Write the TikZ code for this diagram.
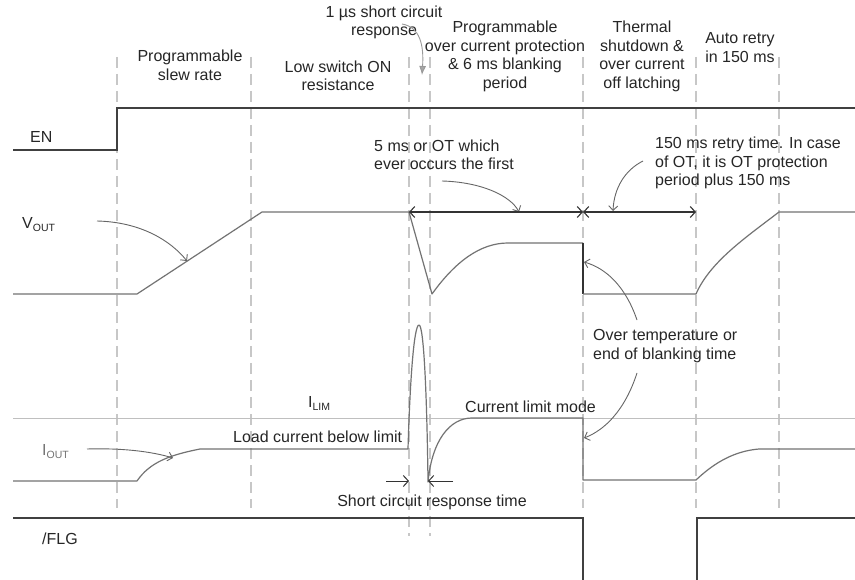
\documentclass[tikz,border=0pt]{standalone}
\usepackage{fontspec}
\setmainfont{Liberation Sans}
\usetikzlibrary{arrows.meta}
\newcommand{\lowsub}[1]{{\fontsize{10.5}{10.5}\selectfont\raisebox{-3pt}{#1}}}
\tikzset{
  guide/.style={draw=black!22, line width=1.1pt, dash pattern=on 11pt off 6pt},
  limline/.style={draw=black!25, line width=0.9pt},
  trace/.style={draw=black!55, line width=1.2pt, line join=round},
  darktrace/.style={draw=black!80, line width=1.3pt},
  sig/.style={draw=black!75, line width=1.4pt, line join=miter},
  note/.style={draw=black!60, line width=0.9pt, -{Straight Barb[length=4.5pt,width=9pt]}},
  notefill/.style={draw=black!40, line width=0.9pt, -{Latex[length=9pt,width=7pt,fill=black!35]}},
  dim/.style={draw=black!80, line width=1.1pt, {Straight Barb[length=5pt,width=11pt]}-{Straight Barb[length=5pt,width=11pt]}},
  scarrow/.style={draw=black!80, line width=1pt, -{Straight Barb[length=5pt,width=11pt]}},
  lbl/.style={inner sep=0pt, text=black!85},
}
\begin{document}
\begin{tikzpicture}[x=1pt, y=-1pt, font=\fontsize{16}{18.5}\selectfont]
\useasboundingbox (0,0) rectangle (855,580);
\fill[white] (0,0) rectangle (855,580);

% dashed guides
\foreach \gx in {117,251,583,696,779} {\draw[guide] (\gx,57) -- (\gx,508);}
\foreach \gx in {409,430} {\draw[guide] (\gx,57) -- (\gx,536);}

% I_LIM reference line
\draw[limline] (13,418) -- (855,418);

% EN
\draw[sig] (13,150) -- (117,150) -- (117,108) -- (855,108);

% V_OUT
\draw[trace] (13,294) -- (137,294) -- (262,212) -- (409,212) -- (432,294)
  .. controls (455,262) and (480,243) .. (508,243) -- (583,243);
\draw[darktrace] (583,243) -- (583,294);
\draw[trace] (583,294) -- (696,294)
  .. controls (710,262) and (745,238) .. (779,212) -- (855,212);

% I_OUT
\draw[trace] (13,481) -- (137,481) .. controls (150,462) and (170,455) .. (200,449)
  -- (408,449) .. controls (410,380) and (414,325) .. (419,325)
  .. controls (424,325) and (427,400) .. (428,482)
  .. controls (432,440) and (450,418) .. (472,418) -- (583,418) -- (583,480) -- (696,480)
  .. controls (715,462) and (735,451) .. (759,449) -- (855,449);

% /FLG
\draw[sig] (13,518) -- (583,518) -- (583,581);
\draw[sig] (697,581) -- (697,518) -- (855,518);

% labels
\node[lbl, align=center] (tslew) at (190,65.5) {Programmable\\slew rate};
\node[lbl, align=center] (tlow) at (338,76) {Low switch ON\\resistance};
\node[lbl, align=center] (tsc) at (384,22.5) {1 µs short circuit\\response};
\node[lbl, align=center] (tocp) at (505,56.5) {Programmable\\over current protection\\\& 6 ms blanking\\period};
\node[lbl, align=center] (ttsd) at (642,56.5) {Thermal\\shutdown \&\\over current\\off latching};
\node[lbl, align=center] (tretry) at (740,47.5) {Auto retry\\in 150 ms};
\node[lbl, anchor=west] (ten) at (30,137) {EN};
\node[lbl, anchor=west] (tvout) at (22,225) {V\lowsub{OUT}};
\node[lbl, anchor=west, text=black!55] (tiout) at (42,452) {I\lowsub{OUT}};
\node[lbl, anchor=west] (tilim) at (308,403) {I\lowsub{LIM}};
\node[lbl, anchor=west] (tload) at (233,437) {Load current below limit};
\node[lbl, anchor=west] (tcl) at (465,407) {Current limit mode};
\node[lbl, align=left, anchor=west] (t5ms) at (374,155) {5 ms or OT which\\ever occurs the first};
\node[lbl, align=left, anchor=west] (t150) at (655,163) {150 ms retry time. In case\\of OT, it is OT protection\\period plus 150 ms};
\node[lbl, align=left, anchor=west] (tot) at (593,346) {Over temperature or\\end of blanking time};
\node[lbl] (tscr) at (432,502) {Short circuit response time};
\node[lbl, anchor=west] (tflg) at (42,539) {/FLG};

% annotation arrows
\coordinate (a1s) at (402,24);  \coordinate (a1e) at (422,75);
\draw[notefill] (a1s) .. controls (420,27) and (424,45) .. (a1e);
\coordinate (avs) at (97,221);  \coordinate (ave) at (187,261);
\draw[note] (avs) .. controls (140,222) and (170,240) .. (ave);
\coordinate (ais) at (87,449);  \coordinate (aie) at (173,458);
\draw[note] (ais) .. controls (120,448) and (150,451) .. (aie);
\coordinate (a5s) at (442,181); \coordinate (a5e) at (519,212);
\draw[note] (a5s) .. controls (480,182) and (510,195) .. (a5e);
\coordinate (ars) at (643,161); \coordinate (are) at (613,211);
\draw[note] (ars) .. controls (625,170) and (614,188) .. (are);
\coordinate (aus) at (637,320); \coordinate (aue) at (584,262);
\draw[note] (aus) .. controls (625,285) and (605,268) .. (aue);
\coordinate (ads) at (637,373); \coordinate (ade) at (584,438);
\draw[note] (ads) .. controls (625,410) and (605,430) .. (ade);

% dimension arrows
\coordinate (d1) at (409,212); \coordinate (d2) at (583,212); \coordinate (d3) at (696,212);
\draw[dim] (d1) -- (d2);
\draw[dim] (d2) -- (d3);
\coordinate (s1a) at (386,481); \coordinate (s1b) at (409,481);
\coordinate (s2a) at (453,481); \coordinate (s2b) at (428,481);
\draw[scarrow] (s1a) -- (s1b);
\draw[scarrow] (s2a) -- (s2b);
\end{tikzpicture}
\end{document}
